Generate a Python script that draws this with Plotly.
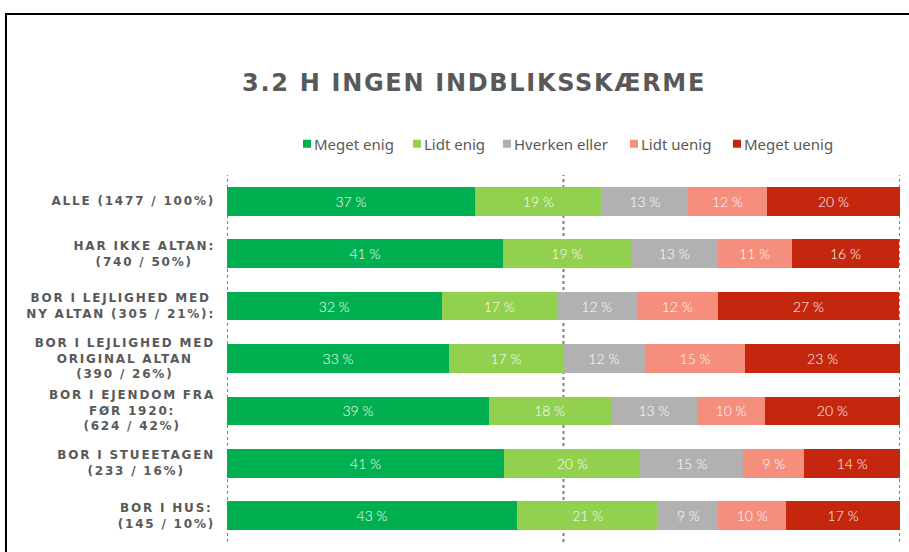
import plotly.graph_objects as go

categories = [
    "ALLE (1477 / 100%)",
    "HAR IKKE ALTAN:<br>(740 / 50%)",
    "BOR I LEJLIGHED MED<br>NY ALTAN (305 / 21%):",
    "BOR I LEJLIGHED MED<br>ORIGINAL ALTAN<br>(390 / 26%)",
    "BOR I EJENDOM FRA<br>FØR 1920:<br>(624 / 42%)",
    "BOR I STUEETAGEN<br>(233 / 16%)",
    "BOR I HUS:<br>(145 / 10%)",
]
series_names = ["Meget enig", "Lidt enig", "Hverken eller", "Lidt uenig", "Meget uenig"]
meget_enig = [36.85, 41.0, 31.9, 33.0, 38.9, 41.2, 43.1]
lidt_enig = [18.87, 19.0, 17.1, 16.9, 18.1, 20.2, 21.0]
hverken_eller = [12.78, 12.9, 11.9, 12.2, 12.9, 15.3, 8.9]
lidt_uenig = [11.74, 11.0, 12.0, 14.9, 10.0, 9.1, 10.1]
meget_uenig = [19.76, 16.0, 27.0, 23.0, 20.1, 14.2, 16.9]
colors = ["#00B050", "#92D050", "#B1B1B1", "#F58E7D", "#C4260E"]
title_text = "3.2 H INGEN INDBLIKSSKÆRME"
gridlines = [0, 50, 100]

series_values = [meget_enig, lidt_enig, hverken_eller, lidt_uenig, meget_uenig]

W, H = 909, 552
ML, MR, MT, MB = 227, 9, 175, 10
pw, ph = W - ML - MR, H - MT - MB

def px_x(px):
    return (px - ML) / pw

def px_y(py):
    return 1 - (py - MT) / ph

fig = go.Figure()
for name, vals, col in zip(series_names, series_values, colors):
    fig.add_trace(go.Bar(
        y=categories, x=vals, name=name, orientation="h",
        marker=dict(color=col, line=dict(width=0)),
        texttemplate="%{x:.0f} %", textposition="inside",
        insidetextanchor="middle",
        textfont=dict(color="white", size=14, family="Lato", weight=300),
        hoverinfo="skip",
    ))

shapes = []
for g in gridlines:
    shapes.append(dict(type="line", xref="x", yref="paper", x0=g, x1=g, y0=0, y1=1,
                       line=dict(color="#808080", width=2, dash="dot"), layer="below"))
# frame
shapes.append(dict(type="line", xref="paper", yref="paper", x0=px_x(6), x1=px_x(6),
                   y0=px_y(14), y1=px_y(560), line=dict(color="black", width=2)))
shapes.append(dict(type="line", xref="paper", yref="paper", x0=px_x(5), x1=px_x(920),
                   y0=px_y(14), y1=px_y(14), line=dict(color="black", width=2)))

annotations = []
for c in categories:
    annotations.append(dict(
        xref="paper", yref="y", x=0, y=c, xanchor="right", yanchor="middle",
        xshift=-13, text="<b>" + c + "</b>", showarrow=False, align="center",
        font=dict(family="DejaVu Sans", size=12, color="#595959"),
    ))

fig.update_layout(
    width=W, height=H,
    margin=dict(l=ML, r=MR, t=MT, b=MB),
    paper_bgcolor="white", plot_bgcolor="white",
    barmode="stack", bargap=0.45,
    title=dict(text="<b>" + title_text + "</b>", xref="container", yref="container",
               x=474 / W, y=1 - 83 / H, xanchor="center", yanchor="middle",
               font=dict(family="DejaVu Sans", size=24, color="#595959")),
    legend=dict(orientation="h", x=0.5, xanchor="center", y=px_y(144), yanchor="middle",
                font=dict(family="Noto Sans", size=15, color="#595959"),
                traceorder="normal", itemwidth=30, itemclick=False),
    xaxis=dict(range=[0, 100], showgrid=False, zeroline=False, showticklabels=False,
               showline=False, fixedrange=True),
    yaxis=dict(autorange="reversed", showgrid=False, showticklabels=False,
               showline=False, zeroline=False, fixedrange=True),
    shapes=shapes, annotations=annotations,
    showlegend=True,
)

post_js = """
document.body.style.margin = '0';
(function(){
  var gd = document.getElementById('{plot_id}');
  if (!gd) return;
  gd.querySelectorAll('g.annotation text.annotation-text').forEach(function(t){
    t.style.letterSpacing = '1.8px';
    var r = t.getBoundingClientRect();
    var dx = 215 - r.right;
    t.setAttribute('transform', (t.getAttribute('transform') || '') + ' translate(' + dx + ',0)');
  });
  var tt = gd.querySelector('text.gtitle');
  if (tt) {
    tt.style.letterSpacing = '1.7px';
    var r = tt.getBoundingClientRect();
    var dx = 474 - (r.left + r.right) / 2;
    tt.setAttribute('transform', (tt.getAttribute('transform') || '') + ' translate(' + dx + ',0)');
  }
  var targets = [303, 413, 503, 630, 733];
  gd.querySelectorAll('g.legend g.traces').forEach(function(it, i){
    try {
      var p = it.querySelector('g.legendpoints path');
      if (!p || i >= targets.length) return;
      p.setAttribute('d', 'M4,4H-4V-4H4Z');
      var pr = p.getBoundingClientRect();
      var dx = targets[i] - pr.left;
      var tr = it.getAttribute('transform') || 'translate(0,0)';
      var m = /translate\\(\\s*([-\\d.e]+)[\\s,]+([-\\d.e]+)\\s*\\)/.exec(tr);
      if (m) it.setAttribute('transform', 'translate(' + (parseFloat(m[1]) + dx) + ',' + m[2] + ')');
      var t = it.querySelector('text.legendtext');
      var pr2 = p.getBoundingClientRect();
      var tr2 = t.getBoundingClientRect();
      var dxt = pr2.right + 3 - tr2.left;
      t.setAttribute('x', parseFloat(t.getAttribute('x') || 0) + dxt);
    } catch (e) {}
  });
})();
"""

fig.write_html("out.html", post_script=post_js, config={"displayModeBar": False})
